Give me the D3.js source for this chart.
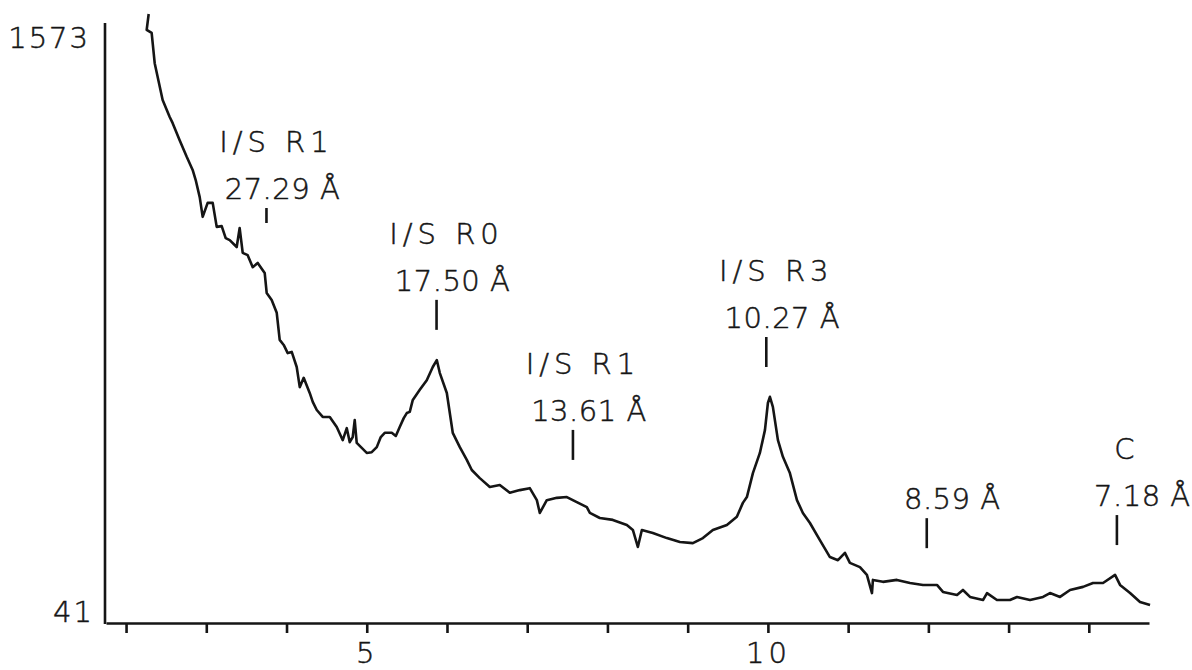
<!DOCTYPE html>
<html>
<head>
<meta charset="utf-8">
<title>I/S diffraction trace</title>
<style>
  body { margin: 0; background: #fff; }
  svg { display: block; }
  text { font-family: "DejaVu Sans", sans-serif; font-weight: 200; fill: #151515; stroke: #151515; stroke-width: 0.5px; }
  .lbl { font-size: 29px; letter-spacing: 2px; }
  .name { letter-spacing: 5px; }
  .dval { letter-spacing: 0.5px; }
  .axis path, .axis line { stroke: #151515; stroke-width: 2.6px; }
  .trace { fill: none; stroke: #151515; stroke-width: 2.6px; stroke-linejoin: round; }
  .peak { stroke: #151515; stroke-width: 2.6px; }
</style>
</head>
<body>
<svg id="chart"></svg>
<script src="https://d3js.org/d3.v7.min.js"></script>
<script>
// trace: degrees 2-theta and counts
var twoTheta = [2.282, 2.257, 2.319, 2.357, 2.394, 2.456, 2.544, 2.581, 2.668, 2.756,
  2.830, 2.868, 2.918, 2.955, 3.017, 3.080, 3.130, 3.192, 3.242, 3.292,
  3.379, 3.416, 3.454, 3.516, 3.579, 3.641, 3.728, 3.753, 3.815, 3.878,
  3.915, 3.965, 4.015, 4.065, 4.127, 4.165, 4.214, 4.289, 4.327, 4.377,
  4.451, 4.539, 4.626, 4.701, 4.751, 4.788, 4.825, 4.850, 4.875, 5.000,
  5.062, 5.125, 5.175, 5.224, 5.312, 5.362, 5.411, 5.461, 5.499, 5.536,
  5.574, 5.661, 5.748, 5.823, 5.873, 5.910, 5.998,
  6.072, 6.160, 6.247, 6.309, 6.409, 6.534, 6.658, 6.783, 6.908, 7.032,
  7.120, 7.157, 7.244, 7.369, 7.494, 7.618, 7.743, 7.781, 7.905, 8.067,
  8.242, 8.317, 8.379, 8.429, 8.566, 8.741, 8.903, 9.065, 9.190, 9.314,
  9.489, 9.613, 9.688, 9.738, 9.813, 9.900, 9.963, 10.000, 10.025, 10.062,
  10.125, 10.187, 10.274, 10.362, 10.436, 10.524, 10.648, 10.773, 10.873, 10.960,
  11.022, 11.147, 11.234, 11.297, 11.309, 11.434, 11.608, 11.771, 11.933, 12.107,
  12.182, 12.357, 12.431, 12.519, 12.681, 12.731, 12.855, 13.017, 13.105, 13.267,
  13.429, 13.516, 13.641, 13.766, 13.928, 14.052, 14.177, 14.327, 14.389, 14.514,
  14.638, 14.763];
var counts = [1573, 1532, 1524, 1446, 1410, 1351, 1307, 1291, 1247, 1204,
  1170, 1144, 1100, 1049, 1085, 1085, 1023, 1025, 994, 989,
  971, 1020, 956, 950, 919, 930, 904, 852, 834, 801,
  731, 718, 697, 700, 661, 609, 633, 594, 571, 550,
  532, 532, 506, 472, 503, 467, 480, 524, 465, 439,
  441, 454, 480, 491, 491, 483, 506, 529, 542, 545,
  576, 602, 627, 661, 679, 646, 594,
  491, 454, 421, 395, 374, 351, 356, 336, 343, 348,
  317, 284, 317, 323, 325, 312, 299, 284, 271, 266,
  253, 240, 196, 240, 232, 219, 209, 206, 219, 240,
  253, 274, 310, 325, 387, 439, 498, 568, 584, 558,
  472, 429, 387, 317, 284, 258, 214, 170, 162, 181,
  155, 144, 124, 77, 111, 106, 111, 103, 98, 98,
  80, 72, 85, 67, 59, 77, 59, 59, 67, 59,
  67, 77, 67, 85, 93, 103, 103, 124, 98, 77,
  54, 46];

var xTicks = [2, 3, 4, 5, 6, 7, 8, 9, 10, 11, 12, 13, 14];
var xTickLabels = [5, 10];
var yEndLabels = ["41", "1573"];

// marked reflections
var peakTheta = [3.75, 5.87, 7.57, 9.98, 11.98, 14.35];
var peakLevel = [1033, 757, 421, 661, 193, 201];
var peakName = ["I/S R1", "I/S R0", "I/S R1", "I/S R3", "", "C"];
var peakD = ["27.29", "17.50", "13.61", "10.27", "8.59", "7.18"];

var W = 1192, H = 670;
var plotTop = 23, plotBottom = 623;

var svg = d3.select("#chart").attr("width", W).attr("height", H);

var x = d3.scaleLinear().domain([1.75, 14.75]).range([106, 1149]);
var y = d3.scaleLinear().domain([41, 1573]).range([607, 14]);

// x axis
svg.append("g")
  .attr("class", "axis")
  .attr("transform", "translate(0," + plotBottom + ")")
  .attr("font-family", null)
  .attr("font-size", null)
  .call(d3.axisBottom(x)
    .tickValues(xTicks)
    .tickSize(10)
    .tickSizeOuter(0)
    .tickPadding(9)
    .tickFormat(d => xTickLabels.indexOf(d) >= 0 ? d : ""))
  .call(g => g.selectAll("text")
    .attr("class", "lbl")
    .style("letter-spacing", "4px")
    .attr("fill", null));

// y axis: plain line, labels at the ends
svg.append("line")
  .attr("class", "peak")
  .attr("x1", x.range()[0] - 1).attr("x2", x.range()[0] - 1)
  .attr("y1", plotTop).attr("y2", plotBottom + 1);

svg.append("text").attr("class", "lbl")
  .attr("text-anchor", "end")
  .attr("x", x.range()[0] - 16).attr("y", plotTop + 25)
  .text(yEndLabels[1]);

svg.append("text").attr("class", "lbl")
  .attr("text-anchor", "end")
  .attr("x", x.range()[0] - 12).attr("y", plotBottom - 1)
  .text(yEndLabels[0]);

// trace
var pts = twoTheta.map((t, i) => [t, counts[i]]);
svg.append("path")
  .datum(pts)
  .attr("class", "trace")
  .attr("d", d3.line().x(d => x(d[0])).y(d => y(d[1])));

// peak markers and labels
peakTheta.forEach(function(t, i) {
  var px = x(t);
  var yb = y(peakLevel[i]);
  var len = i === 0 ? 15 : 30;
  svg.append("line").attr("class", "peak")
    .attr("x1", px).attr("x2", px)
    .attr("y1", yb).attr("y2", yb - len);

  var dLine = svg.append("text").attr("class", "lbl dval")
    .attr("x", px).attr("y", yb - len - 9)
    .text(peakD[i] + " Å");
  // put the decimal point over the marker
  var node = dLine.node();
  var k = peakD[i].indexOf(".");
  var before = node.getSubStringLength(0, k);
  var dot = node.getSubStringLength(k, 1);
  dLine.attr("x", px - before - dot / 2 + 1);

  if (peakName[i]) {
    svg.append("text").attr("class", "lbl name")
      .attr("text-anchor", "middle")
      .attr("x", px + 10).attr("y", yb - len - 56)
      .text(peakName[i]);
  }
});
</script>
</body>
</html>
